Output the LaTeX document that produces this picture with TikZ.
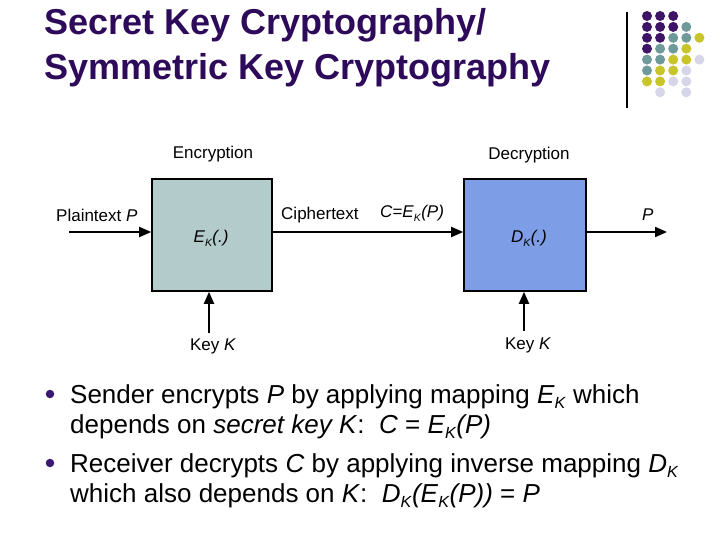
\documentclass[tikz,border=0pt]{standalone}
\usepackage{fontspec}
\setmainfont{Liberation Sans}
\usetikzlibrary{arrows.meta}
\definecolor{titlec}{HTML}{2E0B5A}
\definecolor{bulc}{HTML}{3A1770}
\definecolor{dpur}{HTML}{3D1466}
\definecolor{dteal}{HTML}{6E9A9A}
\definecolor{dyel}{HTML}{C8C529}
\definecolor{dlav}{HTML}{D6D6E8}
\definecolor{encfill}{HTML}{B4CBCB}
\definecolor{decfill}{HTML}{7D9DE6}
\newcommand{\subK}{\raisebox{-0.22em}{\scalebox{0.62}{\textit{K}}}}
\begin{document}
\begin{tikzpicture}[x=1pt,y=-1pt,
  titletext/.style={anchor=base west,inner sep=0pt,text=titlec,font=\fontsize{36}{40}\selectfont\bfseries},
  lbl/.style={inner sep=0pt,font=\fontsize{17}{20}\selectfont},
  bodytext/.style={anchor=base west,inner sep=0pt,font=\fontsize{26}{30}\selectfont},
  procbox/.style={draw=black,line width=1.6pt,minimum width=120pt,minimum height=112pt,inner sep=0pt},
  arr/.style={line width=2pt,-{Triangle[length=12pt,width=10pt]}},
  bul/.style={circle,fill=bulc,inner sep=0pt,minimum size=8.5pt},
  dot/.style={circle,inner sep=0pt,minimum size=10pt}]
\useasboundingbox (0,0) rectangle (720,540);
\fill[white] (0,0) rectangle (720,540);
% title
\node[titletext] (t1) at (44,35) {Secret Key Cryptography/};
\node[titletext] (t2) at (44,80) {Symmetric Key Cryptography};
% decoration
\draw[line width=1.3pt] (627,12) -- (627,108);
\foreach \r/\cols in {0/{dpur,dpur,dpur,,},1/{dpur,dpur,dpur,dteal,},2/{dpur,dpur,dteal,dteal,dyel},3/{dpur,dteal,dteal,dyel,},4/{dteal,dteal,dyel,dyel,dlav},5/{dteal,dyel,dyel,dlav,},6/{dyel,dyel,dlav,dlav,},7/{,dlav,,dlav,}}{
  \foreach \c [count=\i from 0] in \cols {
    \ifx\c\empty\else
      \node[dot,fill=\c] (d\r-\i) at ({647+13.1*\i},{16+10.9*\r}) {};
    \fi
  }
}
% boxes
\node[procbox,fill=encfill] (enc) at (212,235) {};
\node[procbox,fill=decfill,minimum width=122pt] (dec) at (525,235) {};
\node[lbl,anchor=base] (encl) at (213,159) {Encryption};
\node[lbl,anchor=base] (decl) at (529,160) {Decryption};
\node[lbl,anchor=base] (ek) at (211,243) {\textit{E}\subK\textit{(.)}};
\node[lbl,anchor=base] (dk) at (529,243) {\textit{D}\subK\textit{(.)}};
\node[lbl,anchor=base west] (pt) at (56,222) {Plaintext \textit{P}};
\node[lbl,anchor=base west] (ct) at (281,219) {Ciphertext};
\node[lbl,anchor=base west] (cek) at (380,218) {\textit{C=E}\subK\textit{(P)}};
\node[lbl,anchor=base west] (pout) at (642,221) {\textit{P}};
\node[lbl,anchor=base] (k1) at (213,350) {Key \textit{K}};
\node[lbl,anchor=base] (k2) at (528,349) {Key \textit{K}};
% connectors
\coordinate (pin) at (69,232);
\coordinate (pend) at (667,232);
\coordinate (kin1) at (209,333);
\coordinate (kin2) at (524,331);
\draw[arr] (pin) -- (pin -| enc.west);
\draw[arr] (pin -| enc.east) -- (pin -| dec.west);
\draw[arr] (pin -| dec.east) -- (pend);
\draw[arr] (kin1) -- (kin1 |- enc.south);
\draw[arr] (kin2) -- (kin2 |- dec.south);
% bullets
\node[bul] (b1) at (50,394) {};
\node[bul] (b2) at (50,463) {};
\node[bodytext] (l1) at (70,403) {Sender encrypts \textit{P} by applying mapping \textit{E}\subK{} which};
\node[bodytext] (l2) at (70,433) {depends on \textit{secret key K}:\ \ \textit{C} = \textit{E}\subK\textit{(P)}};
\node[bodytext] (l3) at (70,472) {Receiver decrypts \textit{C} by applying inverse mapping \textit{D}\subK};
\node[bodytext] (l4) at (70,502) {which also depends on \textit{K}:\ \ \textit{D}\subK\textit{(E}\subK\textit{(P))} = \textit{P}};
\end{tikzpicture}
\end{document}
